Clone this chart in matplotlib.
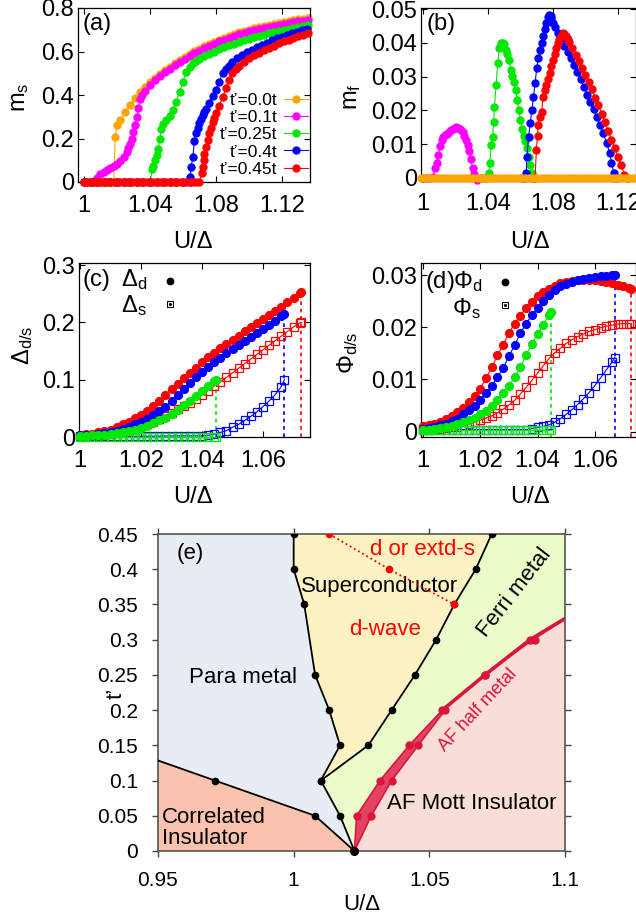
import numpy as np
import matplotlib
matplotlib.use('Agg')
import matplotlib.pyplot as plt
from matplotlib.lines import Line2D

plt.rcParams['font.family'] = ['Liberation Sans', 'DejaVu Sans']
plt.rcParams['mathtext.default'] = 'regular'

# ---------------- (a) staggered magnetisation m_s ----------------
U0 = [1.000, 1.002, 1.004, 1.006, 1.008, 1.010, 1.012, 1.014, 1.016, 1.018]  # zero plateau grid

ms_u_00 = U0 + [1.019, 1.020, 1.022, 1.025, 1.028, 1.031, 1.034, 1.037, 1.040, 1.043, 1.046, 1.049,
                1.052, 1.055, 1.058, 1.061, 1.064, 1.067, 1.070, 1.073, 1.076, 1.079, 1.082, 1.085,
                1.088, 1.091, 1.094, 1.097, 1.100, 1.103, 1.106, 1.109, 1.112, 1.115, 1.118, 1.121,
                1.124, 1.127, 1.130, 1.133, 1.136]
ms_v_00 = [0.0] * 10 + [0.205, 0.262, 0.285, 0.320, 0.355, 0.385, 0.412, 0.436, 0.458, 0.478, 0.497, 0.515,
                        0.531, 0.546, 0.561, 0.575, 0.588, 0.601, 0.613, 0.624, 0.635, 0.645, 0.655, 0.664,
                        0.673, 0.681, 0.688, 0.695, 0.701, 0.707, 0.713, 0.718, 0.723, 0.728, 0.733, 0.737,
                        0.741, 0.745, 0.748, 0.751, 0.754]

ms_u_01 = [1.000, 1.002, 1.004, 1.006, 1.008, 1.010, 1.012, 1.014, 1.016, 1.018, 1.020, 1.022, 1.024,
           1.026, 1.027, 1.028, 1.029, 1.030, 1.031, 1.032, 1.033, 1.034, 1.035, 1.037, 1.040, 1.043,
           1.046, 1.049, 1.052, 1.055, 1.058, 1.061, 1.064, 1.067, 1.070, 1.073, 1.076, 1.079, 1.082,
           1.085, 1.088, 1.091, 1.094, 1.097, 1.100, 1.103, 1.106, 1.109, 1.112, 1.115, 1.118, 1.121,
           1.124, 1.127, 1.130, 1.133, 1.136]
ms_v_01 = [0.0, 0.0, 0.0, 0.005, 0.020, 0.035, 0.047, 0.055, 0.063, 0.072, 0.083, 0.097, 0.115,
           0.138, 0.155, 0.175, 0.200, 0.228, 0.262, 0.300, 0.340, 0.380, 0.400, 0.420, 0.445, 0.467,
           0.487, 0.505, 0.521, 0.537, 0.552, 0.566, 0.579, 0.592, 0.604, 0.615, 0.626, 0.636, 0.646,
           0.655, 0.664, 0.672, 0.679, 0.686, 0.692, 0.698, 0.704, 0.709, 0.714, 0.719, 0.724, 0.728,
           0.732, 0.736, 0.739, 0.742, 0.745]

ms_u_025 = [1.000, 1.004, 1.008, 1.012, 1.016, 1.020, 1.024, 1.028, 1.032, 1.036, 1.040,
            1.0415, 1.042, 1.043, 1.044, 1.045, 1.046, 1.047, 1.048, 1.050, 1.052, 1.054, 1.056,
            1.058, 1.060, 1.062, 1.064, 1.066, 1.068, 1.070, 1.073, 1.076, 1.079, 1.082, 1.085,
            1.088, 1.091, 1.094, 1.097, 1.100, 1.103, 1.106, 1.109, 1.112, 1.115, 1.118, 1.121,
            1.124, 1.127, 1.130, 1.133, 1.136]
ms_v_025 = [0.0] * 11 + [0.060, 0.075, 0.100, 0.125, 0.150, 0.200, 0.245, 0.265, 0.285, 0.305, 0.330, 0.370,
                         0.415, 0.460, 0.505, 0.530, 0.546, 0.556, 0.566, 0.578, 0.589, 0.600, 0.610, 0.619,
                         0.628, 0.636, 0.644, 0.652, 0.659, 0.666, 0.672, 0.678, 0.684, 0.690, 0.695, 0.700,
                         0.705, 0.710, 0.714, 0.718, 0.722]

ms_u_04 = [1.000, 1.004, 1.008, 1.012, 1.016, 1.020, 1.024, 1.028, 1.032, 1.036, 1.040, 1.044,
           1.048, 1.052, 1.056, 1.060, 1.064,
           1.0645, 1.065, 1.066, 1.067, 1.068, 1.069, 1.070, 1.071, 1.072, 1.073, 1.074, 1.076,
           1.078, 1.080, 1.082, 1.084, 1.086, 1.088, 1.090, 1.093, 1.096, 1.099, 1.102, 1.105,
           1.108, 1.111, 1.114, 1.117, 1.120, 1.123, 1.126, 1.129, 1.132, 1.135]
ms_v_04 = [0.0] * 17 + [0.025, 0.070, 0.116, 0.190, 0.225, 0.250, 0.272, 0.290, 0.307, 0.322, 0.337, 0.365,
                        0.395, 0.425, 0.460, 0.500, 0.520, 0.535, 0.550, 0.568, 0.583, 0.596, 0.609, 0.620,
                        0.631, 0.641, 0.651, 0.660, 0.668, 0.676, 0.684, 0.691, 0.697, 0.703]

ms_u_045 = [1.000, 1.002, 1.004, 1.006, 1.008, 1.010, 1.012, 1.014, 1.016, 1.018, 1.020, 1.022,
            1.024, 1.026, 1.028, 1.030, 1.032, 1.034, 1.036, 1.038, 1.040, 1.042, 1.044, 1.046,
            1.048, 1.050, 1.052, 1.054, 1.056, 1.058, 1.060, 1.062, 1.064, 1.066, 1.068, 1.070,
            1.0713, 1.072, 1.0727, 1.073, 1.074, 1.075, 1.076, 1.077, 1.078, 1.079, 1.080, 1.082,
            1.084, 1.086, 1.088, 1.090, 1.092, 1.094, 1.097, 1.100, 1.103, 1.106, 1.109, 1.112,
            1.115, 1.118, 1.121, 1.124, 1.127, 1.130, 1.133, 1.136]
ms_v_045 = [0.0] * 36 + [0.040, 0.070, 0.100, 0.130, 0.162, 0.195, 0.224, 0.250, 0.275, 0.295, 0.315, 0.350,
                         0.390, 0.430, 0.470, 0.500, 0.520, 0.535, 0.553, 0.568, 0.582, 0.595, 0.606, 0.617,
                         0.627, 0.637, 0.646, 0.655, 0.663, 0.671, 0.678, 0.685]

# ---------------- (b) ferromagnetic moment m_f ----------------
mf_u_01 = [1.000, 1.002, 1.004, 1.006, 1.0075, 1.0085, 1.0095, 1.0105, 1.0115, 1.0125, 1.0135, 1.0145,
           1.0155, 1.0165, 1.0175, 1.0185, 1.0195, 1.0205, 1.0215, 1.0225, 1.0235, 1.0245, 1.0255,
           1.0265, 1.0275, 1.0285, 1.0295, 1.0305, 1.0315, 1.0325, 1.0335, 1.036]
mf_v_01 = [0.0, 0.0, 0.0, 0.0003, 0.0029, 0.0045, 0.0068, 0.0095, 0.0113, 0.0122, 0.0126, 0.0130,
           0.0134, 0.0138, 0.0142, 0.0145, 0.0148, 0.0150, 0.0149, 0.0146, 0.0142, 0.0136, 0.0125,
           0.0113, 0.0098, 0.0080, 0.0055, 0.0030, 0.0012, 0.0, -0.0006, 0.0]

mf_u_025 = [1.036, 1.038, 1.0395, 1.0405, 1.0412, 1.042, 1.0428, 1.0435, 1.044, 1.045, 1.046, 1.047,
            1.048, 1.049, 1.050, 1.051, 1.052, 1.053, 1.054, 1.055, 1.056, 1.057, 1.058, 1.059,
            1.060, 1.061, 1.062, 1.063, 1.064, 1.065, 1.066, 1.067, 1.068]
mf_v_025 = [0.0, 0.0, 0.0, 0.0014, 0.0043, 0.0098, 0.0122, 0.0165, 0.0210, 0.0275, 0.0340, 0.0385,
            0.0400, 0.0400, 0.0395, 0.0380, 0.0368, 0.0348, 0.0320, 0.0303, 0.0285, 0.0260, 0.0230,
            0.0200, 0.0172, 0.0145, 0.0125, 0.0108, 0.0088, 0.0063, 0.0038, 0.0014, 0.0]

mf_u_04 = [1.061, 1.063, 1.0635, 1.064, 1.065, 1.066, 1.067, 1.068, 1.069, 1.070, 1.071, 1.072,
           1.073, 1.074, 1.075, 1.076, 1.077, 1.0777, 1.0785, 1.079, 1.080, 1.081, 1.083, 1.085,
           1.087, 1.089, 1.091, 1.093, 1.095, 1.097, 1.099, 1.101, 1.103, 1.105, 1.107, 1.109,
           1.111, 1.113, 1.115, 1.116, 1.1175, 1.119]
mf_v_04 = [0.0, 0.0, 0.0014, 0.0063, 0.0122, 0.0162, 0.0200, 0.0240, 0.0280, 0.0325, 0.0355, 0.0380,
           0.0400, 0.0420, 0.0440, 0.0458, 0.0475, 0.0482, 0.0478, 0.0472, 0.0460, 0.0448, 0.0428, 0.0410,
           0.0392, 0.0374, 0.0355, 0.0335, 0.0315, 0.0293, 0.0270, 0.0247, 0.0225, 0.0203, 0.0180, 0.0157,
           0.0132, 0.0103, 0.0073, 0.0045, 0.0014, 0.0]

mf_u_045 = [1.067, 1.069, 1.0698, 1.0705, 1.071, 1.072, 1.073, 1.074, 1.075, 1.076, 1.077, 1.078,
            1.079, 1.080, 1.081, 1.082, 1.083, 1.084, 1.085, 1.086, 1.087, 1.088, 1.089, 1.090,
            1.092, 1.094, 1.096, 1.098, 1.100, 1.102, 1.104, 1.106, 1.108, 1.110, 1.112, 1.114,
            1.116, 1.118, 1.120, 1.122, 1.124, 1.126]
mf_v_045 = [0.0, 0.0, 0.0083, 0.0125, 0.0157, 0.0180, 0.0196, 0.0240, 0.0260, 0.0275, 0.0293, 0.0310,
            0.0330, 0.0350, 0.0368, 0.0385, 0.0400, 0.0410, 0.0420, 0.0428, 0.0425, 0.0420, 0.0412, 0.0402,
            0.0385, 0.0365, 0.0345, 0.0325, 0.0305, 0.0284, 0.0262, 0.0238, 0.0215, 0.0190, 0.0165, 0.0140,
            0.0113, 0.0088, 0.0063, 0.0037, 0.0010, 0.0]

mf_u_00 = [0.999, 1.001, 1.003, 1.005, 1.007, 1.009, 1.011, 1.013, 1.015, 1.017, 1.019, 1.021, 1.023,
           1.025, 1.027, 1.029, 1.031, 1.033, 1.035, 1.037, 1.039, 1.041, 1.043, 1.045, 1.047, 1.049,
           1.051, 1.053, 1.055, 1.057, 1.059, 1.061, 1.063, 1.065, 1.067, 1.069, 1.071, 1.073, 1.075,
           1.077, 1.079, 1.081, 1.083, 1.085, 1.087, 1.089, 1.091, 1.093, 1.095, 1.097, 1.099, 1.101,
           1.103, 1.105, 1.107, 1.109, 1.111, 1.113, 1.115, 1.117, 1.119, 1.121, 1.123, 1.125, 1.127,
           1.129, 1.131]
mf_v_00 = [0.0] * len(mf_u_00)

# ---------------- (c) pairing amplitudes ----------------
UC = [1.000, 1.002, 1.004, 1.006, 1.008, 1.010, 1.012, 1.014, 1.016, 1.018, 1.020, 1.022, 1.024,
      1.026, 1.028, 1.030, 1.032, 1.034, 1.036, 1.038, 1.040, 1.042, 1.044, 1.046, 1.048, 1.050,
      1.052, 1.054, 1.056, 1.058, 1.060, 1.062, 1.064, 1.066, 1.068, 1.070, 1.072]

dd_u_045 = UC + [1.0726]
dd_v_045 = [0.004, 0.005, 0.006, 0.008, 0.010, 0.013, 0.017, 0.022, 0.027, 0.033, 0.039, 0.046, 0.054,
            0.063, 0.073, 0.083, 0.093, 0.103, 0.112, 0.121, 0.130, 0.139, 0.147, 0.155, 0.162, 0.170,
            0.177, 0.185, 0.192, 0.199, 0.206, 0.213, 0.220, 0.227, 0.235, 0.243, 0.251, 0.253]
ds_u_045 = UC + [1.0726]
ds_v_045 = [0.001, 0.0015, 0.002, 0.003, 0.004, 0.005, 0.007, 0.009, 0.012, 0.015, 0.019, 0.023, 0.027,
            0.032, 0.037, 0.042, 0.048, 0.054, 0.060, 0.067, 0.074, 0.081, 0.089, 0.096, 0.104, 0.112,
            0.120, 0.128, 0.136, 0.144, 0.152, 0.160, 0.168, 0.176, 0.184, 0.192, 0.199, 0.200]

dd_u_04 = UC[:34] + [1.067]
dd_v_04 = [0.003, 0.0035, 0.004, 0.005, 0.007, 0.009, 0.011, 0.014, 0.018, 0.022, 0.027, 0.032, 0.038,
           0.045, 0.053, 0.063, 0.074, 0.084, 0.094, 0.104, 0.113, 0.122, 0.130, 0.138, 0.146, 0.153,
           0.160, 0.167, 0.174, 0.182, 0.189, 0.196, 0.203, 0.211, 0.215]
ds_u_04 = UC[:34] + [1.067]
ds_v_04 = [0.001, 0.001, 0.001, 0.001, 0.001, 0.001, 0.001, 0.001, 0.0012, 0.0012, 0.0013, 0.0014, 0.0015,
           0.0016, 0.0017, 0.0018, 0.0019, 0.002, 0.002, 0.002, 0.002, 0.003, 0.005, 0.008, 0.011, 0.017,
           0.022, 0.029, 0.036, 0.044, 0.053, 0.063, 0.074, 0.088, 0.100]

dd_u_025 = UC[:23] + [1.0445]
dd_v_025 = [0.002, 0.0025, 0.003, 0.0035, 0.004, 0.005, 0.007, 0.009, 0.011, 0.013, 0.016, 0.020, 0.024,
            0.029, 0.034, 0.040, 0.047, 0.055, 0.063, 0.071, 0.080, 0.089, 0.097, 0.099]
ds_u_025 = UC[:23] + [1.0445]
ds_v_025 = [0.0008] * 24

# ---------------- (d) order parameters Phi ----------------
pd_u_045 = UC + [1.0728]
pd_v_045 = [0.0010, 0.0012, 0.0015, 0.0019, 0.0024, 0.0030, 0.0037, 0.0046, 0.0056, 0.0068, 0.0082, 0.0102,
            0.0123, 0.0146, 0.0166, 0.0189, 0.0207, 0.0222, 0.0237, 0.0249, 0.0259, 0.0267, 0.0273, 0.0279,
            0.0284, 0.0287, 0.0289, 0.0290, 0.0291, 0.0291, 0.0290, 0.0288, 0.0286, 0.0284, 0.0281, 0.0278,
            0.0275, 0.0274]
ps_u_045 = UC + [1.0728]
ps_v_045 = [0.0003, 0.0004, 0.0005, 0.0006, 0.0007, 0.0008, 0.0009, 0.0011, 0.0014, 0.0018, 0.0022, 0.0026,
            0.0030, 0.0036, 0.0043, 0.0051, 0.0060, 0.0072, 0.0085, 0.0098, 0.0112, 0.0126, 0.0140, 0.0151,
            0.0160, 0.0169, 0.0176, 0.0182, 0.0187, 0.0192, 0.0195, 0.0199, 0.0202, 0.0204, 0.0206, 0.0207,
            0.0207, 0.0207]

pd_u_04 = UC[:34] + [1.067]
pd_v_04 = [0.0005, 0.0007, 0.0009, 0.0012, 0.0015, 0.0020, 0.0025, 0.0033, 0.0041, 0.0050, 0.0061, 0.0074,
           0.0088, 0.0104, 0.0122, 0.0144, 0.0166, 0.0188, 0.0207, 0.0223, 0.0237, 0.0251, 0.0262, 0.0271,
           0.0278, 0.0283, 0.0287, 0.0290, 0.0293, 0.0295, 0.0297, 0.0298, 0.0299, 0.0300, 0.0300]
ps_u_04 = UC[:34] + [1.067]
ps_v_04 = [0.0004] * 19 + [0.0006, 0.0008, 0.0010, 0.0013, 0.0018, 0.0025, 0.0033, 0.0042, 0.0052,
                           0.0063, 0.0075, 0.0088, 0.0103, 0.0118, 0.0133, 0.0142]

pd_u_025 = UC[:23] + [1.0446]
pd_v_025 = [0.0003, 0.0004, 0.0005, 0.0007, 0.0009, 0.0011, 0.0014, 0.0018, 0.0022, 0.0027, 0.0033, 0.0040,
            0.0050, 0.0061, 0.0074, 0.0088, 0.0104, 0.0124, 0.0146, 0.0168, 0.0187, 0.0205, 0.0224, 0.0230]
ps_u_025 = UC[:23] + [1.0446]
ps_v_025 = [0.0003] * 24

# ---------------- (e) phase diagram boundaries (U/Δ, t') ----------------
para_sc_u = [1.0224, 1.0171, 1.0100, 1.0171, 1.0131, 1.0079, 1.0039, 1.0000, 1.0000]
para_sc_t = [0.00, 0.05, 0.10, 0.15, 0.20, 0.25, 0.35, 0.40, 0.45]
sc_ferri_u = [1.0100, 1.0275, 1.0361, 1.0447, 1.0525, 1.0592, 1.0671, 1.0730]
sc_ferri_t = [0.10, 0.15, 0.20, 0.25, 0.30, 0.35, 0.40, 0.45]
ci_u = [0.9500, 0.9710, 1.0079, 1.0224]
ci_t = [0.1285, 0.10, 0.05, 0.00]
dwave_u = [1.0131, 1.0352, 1.0592]
dwave_t = [0.45, 0.40, 0.35]
hm_left_u = [1.0224, 1.0232, 1.0318, 1.0426, 1.0548, 1.0705, 1.0871, 1.1000]
hm_left_t = [0.00, 0.05, 0.10, 0.15, 0.20, 0.25, 0.30, 0.330]
hm_right_u = [1.0224, 1.0286, 1.0361, 1.0459, 1.0558, 1.0705, 1.0889, 1.1000]
hm_right_t = [0.00, 0.05, 0.10, 0.15, 0.20, 0.25, 0.30, 0.328]

# ---------------- figure ----------------
W, H = 636, 917
fig = plt.figure(figsize=(W / 100, H / 100), dpi=100)


def px_axes(left, top, right, bottom):
    return fig.add_axes([left / W, 1 - bottom / H, (right - left) / W, (bottom - top) / H])


def fxy(x, y):
    return x / W, 1 - y / H


ax_a = px_axes(78, 8, 310, 182)
ax_b = px_axes(421, 8, 636, 181)
ax_c = px_axes(79, 263, 310, 437)
ax_d = px_axes(421, 263, 636, 437)
ax_e = px_axes(158, 534, 565, 851)

TICK_FS = 17
ORANGE, MAGENTA, GREEN, BLUE, RED = '#ffa500', '#ff00ff', '#00e800', '#0000ff', '#ff0000'

for ax in (ax_a, ax_b, ax_c, ax_d):
    ax.tick_params(direction='in', top=True, right=True, length=4, width=0.8,
                   labelsize=TICK_FS, pad=9)
    ax.tick_params(axis='y', pad=3)
    for s in ax.spines.values():
        s.set_linewidth(0.9)


def lp(ax, u, v, color, ms=5.0, z=2, **kw):
    return ax.plot(u, v, '-', color=color, lw=0.8, marker='o', ms=ms, mec=color, mfc=color,
                   clip_on=False, zorder=z, **kw)[0]


# (a)
h00 = lp(ax_a, ms_u_00, ms_v_00, ORANGE, z=2)
h01 = lp(ax_a, ms_u_01, ms_v_01, MAGENTA, z=3)
h025 = lp(ax_a, ms_u_025, ms_v_025, GREEN, z=4)
h04 = lp(ax_a, ms_u_04, ms_v_04, BLUE, z=5)
h045 = lp(ax_a, ms_u_045, ms_v_045, RED, z=6)
ax_a.set_xlim(0.9964, 1.137)
ax_a.set_ylim(0, 0.8)
ax_a.set_xticks([1, 1.04, 1.08, 1.12], ['1', '1.04', '1.08', '1.12'])
ax_a.set_yticks([0, 0.2, 0.4, 0.6, 0.8], ['0', '0.2', '0.4', '0.6', '0.8'])
ax_a.legend([h00, h01, h025, h04, h045],
            ['t’=0.0t', 't’=0.1t', 't’=0.25t', 't’=0.4t', 't’=0.45t'],
            loc='lower right', bbox_to_anchor=(1.0, 0.02), markerfirst=False, frameon=False,
            fontsize=12.5, handlelength=1.4, handletextpad=0.4, labelspacing=0.12,
            borderpad=0, borderaxespad=0.1)
ax_a.text(0.02, 0.97, '(a)', transform=ax_a.transAxes, fontsize=TICK_FS, va='top', ha='left')

# (b)
lp(ax_b, mf_u_01, mf_v_01, MAGENTA, z=2)
lp(ax_b, mf_u_025, mf_v_025, GREEN, z=3)
lp(ax_b, mf_u_04, mf_v_04, BLUE, z=4)
lp(ax_b, mf_u_045, mf_v_045, RED, z=5)
lp(ax_b, mf_u_00, mf_v_00, ORANGE, z=6)
ax_b.set_xlim(0.9988, 1.1311)
ax_b.set_ylim(-0.00089, 0.0503)
ax_b.set_xticks([1, 1.04, 1.08, 1.12], ['1', '1.04', '1.08', '1.12'])
ax_b.set_yticks([0, 0.01, 0.02, 0.03, 0.04, 0.05], ['0', '0.01', '0.02', '0.03', '0.04', '0.05'])
ax_b.text(0.025, 0.97, '(b)', transform=ax_b.transAxes, fontsize=TICK_FS, va='top', ha='left')


def sq(ax, u, v, color, z=2):
    ax.plot(u, v, '-', color=color, lw=0.8, marker='s', ms=5.2, mfc='none', mec=color, mew=0.9,
            clip_on=False, zorder=z)


def dots(ax, u, v, color, z=5):
    ax.plot(u, v, '-', color=color, lw=0.8, marker='o', ms=5.6, mfc=color, mec=color,
            clip_on=False, zorder=z)


def vdash(ax, u, vmax, color, vmin):
    ax.vlines(u, vmin, vmax, colors=color, linestyles=(0, (2.2, 2.2)), lw=1.2, zorder=1)


# (c)
vdash(ax_c, dd_u_025[-1], dd_v_025[-1], GREEN, 0)
vdash(ax_c, dd_u_04[-1], dd_v_04[-1], BLUE, 0)
vdash(ax_c, dd_u_045[-1], dd_v_045[-1], RED, 0)
sq(ax_c, ds_u_045, ds_v_045, RED, 2)
sq(ax_c, ds_u_04, ds_v_04, BLUE, 3)
sq(ax_c, ds_u_025, ds_v_025, GREEN, 4)
dots(ax_c, dd_u_045, dd_v_045, RED, 5)
dots(ax_c, dd_u_04, dd_v_04, BLUE, 6)
dots(ax_c, dd_u_025, dd_v_025, GREEN, 7)
ax_c.set_xlim(0.99967, 1.0754)
ax_c.set_ylim(0, 0.3035)
ax_c.set_xticks([1, 1.02, 1.04, 1.06], ['1', '1.02', '1.04', '1.06'])
ax_c.set_yticks([0, 0.1, 0.2, 0.3], ['0', '0.1', '0.2', '0.3'])

# (d)
vdash(ax_d, pd_u_025[-1], pd_v_025[-1], GREEN, -0.001)
vdash(ax_d, pd_u_04[-1], pd_v_04[-1], BLUE, -0.001)
vdash(ax_d, pd_u_045[-1], pd_v_045[-1], RED, -0.001)
sq(ax_d, ps_u_045, ps_v_045, RED, 2)
sq(ax_d, ps_u_04, ps_v_04, BLUE, 3)
sq(ax_d, ps_u_025, ps_v_025, GREEN, 4)
dots(ax_d, pd_u_045, pd_v_045, RED, 5)
dots(ax_d, pd_u_04, pd_v_04, BLUE, 6)
dots(ax_d, pd_u_025, pd_v_025, GREEN, 7)
ax_d.set_xlim(0.9993, 1.0744)
ax_d.set_ylim(-0.00102, 0.0323)
ax_d.set_xticks([1, 1.02, 1.04, 1.06], ['1', '1.02', '1.04', '1.06'])
ax_d.set_yticks([0, 0.01, 0.02, 0.03], ['0', '0.01', '0.02', '0.03'])

# keys of (c) and (d)
fig.text(*fxy(82, 280), '(c)', fontsize=TICK_FS, va='center', ha='left')
fig.text(*fxy(121, 280), 'Δ$_d$', fontsize=TICK_FS, va='center', ha='left')
fig.text(*fxy(121, 306), 'Δ$_s$', fontsize=TICK_FS, va='center', ha='left')
fig.text(*fxy(425, 282), '(d)Φ$_d$', fontsize=TICK_FS, va='center', ha='left')
fig.text(*fxy(452, 309), 'Φ$_s$', fontsize=TICK_FS, va='center', ha='left')
for (x, y, m) in [(170, 281, 'o'), (170, 304, 's'), (505, 282, 'o'), (505, 305, 's')]:
    fx, fy = fxy(x, y)
    if m == 'o':
        fig.add_artist(Line2D([fx], [fy], marker='o', ms=4.6, color='black', transform=fig.transFigure))
    else:
        fig.add_artist(Line2D([fx], [fy], marker='s', ms=5, mfc='none', mec='black', mew=0.8,
                              transform=fig.transFigure))
        fig.add_artist(Line2D([fx], [fy], marker='o', ms=1.2, color='black', transform=fig.transFigure))

# axis labels of the top panels
LAB_FS = 17
fig.text(*fxy(20, 97), 'm$_s$', fontsize=LAB_FS, rotation=90, va='center', ha='center')
fig.text(*fxy(352, 97), 'm$_f$', fontsize=LAB_FS, rotation=90, va='center', ha='center')
fig.text(*fxy(23, 345), 'Δ$_{d/s}$', fontsize=LAB_FS, rotation=90, va='center', ha='center')
fig.text(*fxy(348, 353), 'Φ$_{d/s}$', fontsize=LAB_FS, rotation=90, va='center', ha='center')
for (x, y) in [(193, 242), (530, 242), (193, 497), (530, 497)]:
    fig.text(*fxy(x, y), 'U/Δ', fontsize=LAB_FS, va='center', ha='center')

# (e) phase diagram
C_PARA, C_SC, C_FERRI, C_AF, C_CI = '#e8ecf4', '#fdf3c2', '#eafcca', '#f8ded6', '#fbc3ad'
HM = '#dc143c'

ax_e.fill([0.95] + ci_u + [0.95], [0.0] + ci_t + [0.0], color=C_CI, lw=0, zorder=0)
ax_e.fill(ci_u + para_sc_u[1:] + [0.95], ci_t + para_sc_t[1:] + [0.45], color=C_PARA, lw=0, zorder=0)
ax_e.fill(para_sc_u[2:] + sc_ferri_u[::-1], para_sc_t[2:] + sc_ferri_t[::-1], color=C_SC, lw=0, zorder=0)
ax_e.fill(para_sc_u[:3] + sc_ferri_u[1:] + [1.1] + hm_left_u[::-1],
          para_sc_t[:3] + sc_ferri_t[1:] + [0.45] + hm_left_t[::-1], color=C_FERRI, lw=0, zorder=0)
ax_e.fill(hm_right_u + [1.1], hm_right_t + [0.0], color=C_AF, lw=0, zorder=0)
ax_e.fill(hm_left_u + hm_right_u[::-1], hm_left_t + hm_right_t[::-1], color=HM, alpha=0.8, lw=0, zorder=1)

ax_e.plot(hm_left_u[:5], hm_left_t[:5], color=HM, lw=1.2, zorder=2)
ax_e.plot(hm_right_u[:5], hm_right_t[:5], color=HM, lw=1.2, zorder=2)
ax_e.plot(hm_left_u[4:], hm_left_t[4:], color=HM, lw=2.6, zorder=2)
ax_e.plot(hm_left_u[1:-1] + hm_right_u[1:-1], hm_left_t[1:-1] + hm_right_t[1:-1], 'o', color=HM,
          ms=5, zorder=3)

ax_e.plot(ci_u, ci_t, '-', color='black', lw=1.3, zorder=3)
ax_e.plot(ci_u[1:3], ci_t[1:3], 'o', color='black', ms=4.5, zorder=4)
ax_e.plot(para_sc_u, para_sc_t, '-o', color='black', lw=1.3, ms=4.5, zorder=4)
ax_e.plot(sc_ferri_u, sc_ferri_t, '-o', color='black', lw=1.3, ms=4.5, zorder=4)
ax_e.plot(dwave_u, dwave_t, ':', color='#ff0000', lw=1.3, zorder=5)
ax_e.plot(dwave_u, dwave_t, 'o', color='#ff0000', ms=4.5, zorder=5)
ax_e.plot([para_sc_u[0]], [para_sc_t[0]], 'o', color='black', ms=5.5, zorder=6, clip_on=False)

ax_e.set_xlim(0.95, 1.1)
ax_e.set_ylim(0, 0.45)
ax_e.set_xticks([0.95, 1, 1.05, 1.1], ['0.95', '1', '1.05', '1.1'])
ax_e.set_yticks([0, 0.05, 0.1, 0.15, 0.2, 0.25, 0.3, 0.35, 0.4, 0.45],
                ['0', '0.05', '0.1', '0.15', '0.2', '0.25', '0.3', '0.35', '0.4', '0.45'])
ax_e.tick_params(direction='out', top=True, right=True, labeltop=False, labelright=False,
                 length=4.5, width=1, colors='#444444', labelcolor='black', labelsize=15)
ax_e.tick_params(axis='x', pad=10)
ax_e.tick_params(axis='y', pad=10)
for s in ax_e.spines.values():
    s.set_color('#555555')
    s.set_linewidth(1.2)

E_FS = 16
ax_e.text(0.957, 0.423, '(e)', fontsize=E_FS, va='center', ha='left')
ax_e.text(1.0315, 0.376, 'Superconductor', fontsize=E_FS, va='center', ha='center')
ax_e.text(1.0475, 0.428, 'd or extd-s', fontsize=E_FS, va='center', ha='center', color='#ff0000')
ax_e.text(1.0335, 0.314, 'd-wave', fontsize=E_FS, va='center', ha='center', color='#ff0000')
ax_e.text(0.9815, 0.247, 'Para metal', fontsize=E_FS, va='center', ha='center')
ax_e.text(1.0815, 0.367, 'Ferri metal', fontsize=E_FS, va='center', ha='center', rotation=52)
ax_e.text(1.0680, 0.200, 'AF half metal', fontsize=13, va='center', ha='center', rotation=47, color=HM)
ax_e.text(1.0655, 0.068, 'AF Mott Insulator', fontsize=E_FS, va='center', ha='center')
ax_e.text(0.9515, 0.032, 'Correlated\nInsulator', fontsize=E_FS, va='center', ha='left', linespacing=1.0)

fig.text(*fxy(116, 693), 't’', fontsize=16, rotation=90, va='center', ha='center')
fig.text(*fxy(362, 905), 'U/Δ', fontsize=16, va='center', ha='center')

fig.savefig('out.png', dpi=100)
